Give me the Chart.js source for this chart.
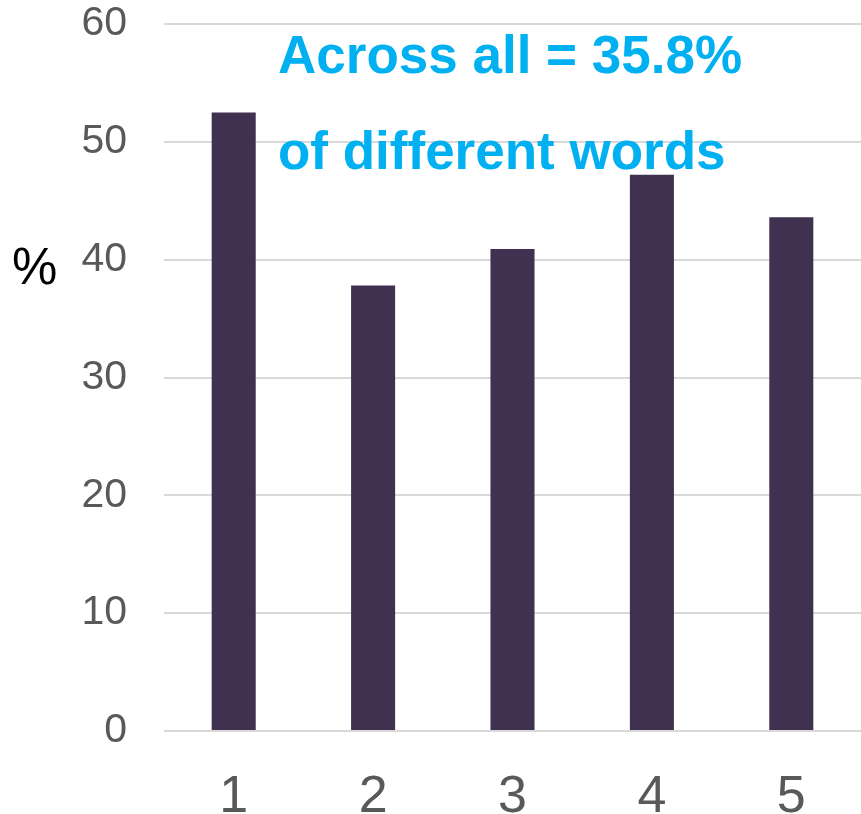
<!DOCTYPE html>
<html lang="en">

<head>
    <meta charset="UTF-8">
    <title>different words</title>
    <style>
        body { margin: 0; background: #fff; }
        #box { width: 861px; height: 814px; }
    </style>
</head>

<body>
    <div id="box"><canvas id="myChart"></canvas></div>
    <script src="https://cdn.jsdelivr.net/npm/chart.js@4/dist/chart.umd.min.js"></script>
    <script>
        const categories = ['1', '2', '3', '4', '5']
        const values = [52.5, 37.8, 40.9, 47.2, 43.6]
        const noteLines = ['Across all = 35.8%', 'of different words']
        const yTitle = '%'

        // text that sits on top of the plot (note and the flat y title)
        const textPlugin = {
            id: 'textPlugin',
            afterDraw(chart) {
                const ctx = chart.ctx
                ctx.save()
                ctx.fillStyle = '#00b0f0'
                ctx.font = 'bold 53px "Liberation Sans", Arial, sans-serif'
                ctx.textBaseline = 'alphabetic'
                ctx.fillText(noteLines[0], 278, 73)
                ctx.fillText(noteLines[1], 278, 169)
                ctx.fillStyle = '#000'
                ctx.font = '51px "Liberation Sans", Arial, sans-serif'
                ctx.fillText(yTitle, 12, 284)
                ctx.restore()
            }
        }

        const ctx = document.querySelector('#myChart').getContext('2d')
        let chart = new Chart(ctx, {
            type: 'bar',
            data: {
                labels: categories,
                datasets: [{
                    data: values,
                    backgroundColor: '#403151',
                    borderColor: '#403151',
                    barPercentage: 0.316,
                    categoryPercentage: 1
                }]
            },
            options: {
                responsive: true,
                maintainAspectRatio: false,
                animation: false,
                layout: { padding: { top: 24, right: 0, left: 0, bottom: 0 } },
                plugins: {
                    legend: { display: false },
                    tooltip: { enabled: false }
                },
                scales: {
                    x: {
                        grid: { display: false },
                        border: { display: false },
                        ticks: {
                            color: '#595959',
                            padding: 27,
                            font: { family: '"Liberation Sans", Arial, sans-serif', size: 52 }
                        },
                        afterFit(scale) {
                            scale.height = 83
                            scale.paddingLeft = 0
                            scale.paddingRight = 0
                        }
                    },
                    y: {
                        min: 0,
                        max: 60,
                        grid: { color: '#d9d9d9', lineWidth: 2, drawTicks: false },
                        border: { display: false },
                        ticks: {
                            stepSize: 10,
                            color: '#595959',
                            padding: 37,
                            font: { family: '"Liberation Sans", Arial, sans-serif', size: 41 }
                        },
                        afterFit(scale) {
                            scale.width = 164
                            scale.paddingTop = 0
                            scale.paddingBottom = 0
                        }
                    }
                }
            },
            plugins: [textPlugin]
        })
    </script>
</body>

</html>
